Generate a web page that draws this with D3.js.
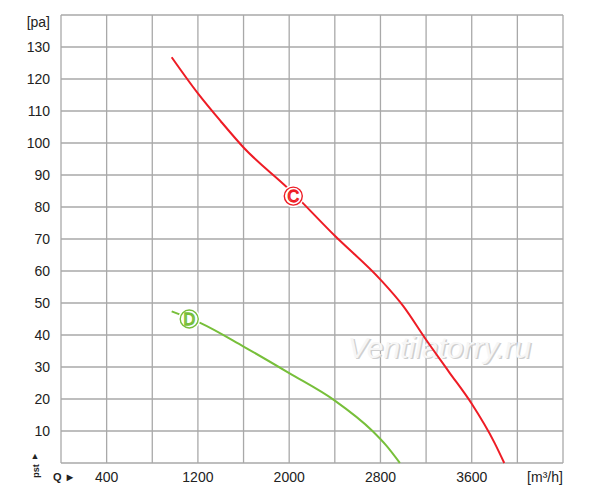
<!DOCTYPE html>
<html>
<head>
<meta charset="utf-8">
<script src="https://cdn.jsdelivr.net/npm/d3@7"></script>
<style>
  body { margin: 0; background: #fff; }
  text { font-family: "Liberation Sans", Arial, sans-serif; }
</style>
</head>
<body>
<div id="chart"></div>
<script>
// axis ranges and tick labels
var qTicks = [400, 1200, 2000, 2800, 3600];
var pTicks = [10, 20, 30, 40, 50, 60, 70, 80, 90, 100, 110, 120, 130];

// curve C (red)
var curveC_q = [970, 1200, 1400, 1600, 2000, 2400, 2800, 3000, 3200, 3400, 3600, 3800, 3885];
var curveC_p = [126.8, 115.5, 106.8, 98.6, 85.5, 71, 57.3, 49, 38.5, 28.5, 18.5, 6.3, 0];

// curve D (green)
var curveD_q = [970, 1220, 1600, 2000, 2400, 2730, 2850, 2970];
var curveD_p = [47.4, 43.8, 36.4, 28.1, 19.5, 10, 5.5, 0];

// circled curve labels
var markNames = ["C", "D"];
var markQ = [2036, 1124];
var markP = [83.4, 45];
var markColors = ["#ee1c25", "#77bf3a"];

var width = 600, height = 500;
var plotLeft = 61, plotRight = 563, plotTop = 15, plotBottom = 463;

var svg = d3.select("#chart").append("svg")
    .attr("width", width)
    .attr("height", height);

var x = d3.scaleLinear().domain([0, 4400]).range([plotLeft, plotRight]);
var y = d3.scaleLinear().domain([0, 140]).range([plotBottom, plotTop]);

// grid
var g = svg.append("g");
g.selectAll("line.v")
    .data(d3.range(0, 4401, 400))
    .enter().append("line")
    .attr("x1", function(d) { return x(d); })
    .attr("x2", function(d) { return x(d); })
    .attr("y1", plotTop).attr("y2", plotBottom)
    .attr("stroke", "#a9a9a9").attr("stroke-width", 1.3);
g.selectAll("line.h")
    .data(d3.range(0, 141, 10))
    .enter().append("line")
    .attr("x1", plotLeft).attr("x2", plotRight)
    .attr("y1", function(d) { return y(d); })
    .attr("y2", function(d) { return y(d); })
    .attr("stroke", "#a9a9a9").attr("stroke-width", 1.3);

// y tick labels
svg.selectAll("text.yl")
    .data(pTicks)
    .enter().append("text")
    .attr("x", 50)
    .attr("y", function(d) { return y(d) + 5; })
    .attr("text-anchor", "end")
    .attr("font-size", 14)
    .attr("fill", "#222")
    .text(function(d) { return d; });
svg.append("text")
    .attr("x", 50).attr("y", 27)
    .attr("text-anchor", "end")
    .attr("font-size", 14).attr("fill", "#222")
    .text("[pa]");

// x tick labels
svg.selectAll("text.xl")
    .data(qTicks)
    .enter().append("text")
    .attr("x", function(d) { return x(d); })
    .attr("y", 482)
    .attr("text-anchor", "middle")
    .attr("font-size", 14)
    .attr("fill", "#222")
    .text(function(d) { return d; });
svg.append("text")
    .attr("x", 545).attr("y", 482)
    .attr("text-anchor", "middle")
    .attr("font-size", 14).attr("fill", "#222")
    .text("[m³/h]");

// axis symbols in the corner
svg.append("text")
    .attr("x", 35).attr("y", 459)
    .attr("text-anchor", "middle")
    .attr("font-size", 9).attr("fill", "#222")
    .text("▲");
svg.append("text")
    .attr("transform", "translate(39,471) rotate(-90)")
    .attr("text-anchor", "middle")
    .attr("font-size", 9).attr("font-weight", "bold").attr("fill", "#222")
    .text("pst");
svg.append("text")
    .attr("x", 53).attr("y", 481)
    .attr("font-size", 11).attr("font-weight", "bold").attr("fill", "#222")
    .text("Q ►");

// watermark (shadow + light face)
svg.append("text")
    .attr("x", 441).attr("y", 359)
    .attr("text-anchor", "middle")
    .attr("font-size", 30).attr("font-style", "italic")
    .attr("fill", "#cfcfcf")
    .text("Ventilatorry.ru");
svg.append("text")
    .attr("x", 439.5).attr("y", 357.5)
    .attr("text-anchor", "middle")
    .attr("font-size", 30).attr("font-style", "italic")
    .attr("fill", "#f6f6f6")
    .text("Ventilatorry.ru");

// curves
var line = d3.line()
    .x(function(d) { return x(d[0]); })
    .y(function(d) { return y(d[1]); })
    .curve(d3.curveMonotoneX);

svg.append("path")
    .datum(d3.zip(curveC_q, curveC_p))
    .attr("d", line)
    .attr("fill", "none")
    .attr("stroke", "#ee1c25")
    .attr("stroke-width", 2);
svg.append("path")
    .datum(d3.zip(curveD_q, curveD_p))
    .attr("d", line)
    .attr("fill", "none")
    .attr("stroke", "#77bf3a")
    .attr("stroke-width", 2);

// circled letters
var marks = svg.selectAll("g.mark")
    .data(markNames)
    .enter().append("g")
    .attr("transform", function(d, i) {
        return "translate(" + x(markQ[i]) + "," + y(markP[i]) + ")";
    });
marks.append("circle")
    .attr("r", 11)
    .attr("fill", "#fff");
marks.append("circle")
    .attr("r", 9)
    .attr("fill", "#fff")
    .attr("stroke", function(d, i) { return markColors[i]; })
    .attr("stroke-width", 1.4);
marks.append("text")
    .attr("y", 6)
    .attr("text-anchor", "middle")
    .attr("font-size", 16)
    .attr("fill", "#fff")
    .attr("stroke", function(d, i) { return markColors[i]; })
    .attr("stroke-width", 1.3)
    .text(function(d) { return d; });
</script>
</body>
</html>
